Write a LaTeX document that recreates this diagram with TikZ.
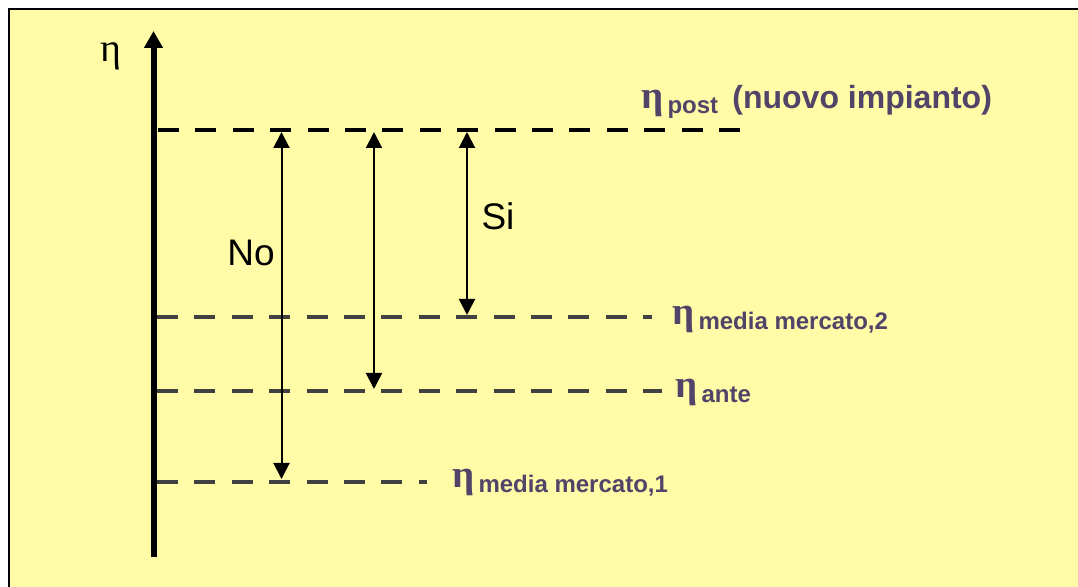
\documentclass[tikz,border=0pt]{standalone}
\usepackage{fontspec}
\setmainfont{Liberation Sans}
\newfontfamily\etafont{Liberation Serif}
\usetikzlibrary{arrows.meta, positioning}
\definecolor{paleyellow}{RGB}{255, 251, 166}
\definecolor{labelpurple}{RGB}{82, 68, 105}
\definecolor{levelgrey}{RGB}{64, 64, 64}
\newcommand{\etalabel}[1]{{\etafont\bfseries\fontsize{19.5}{19.5}\selectfont η}\hspace{2pt}\raisebox{-2.5pt}{\fontsize{12}{12}\selectfont\bfseries #1}}

\begin{document}
\begin{tikzpicture}[
    x=0.5pt, y=-0.5pt,
    axis/.style={line width=3pt, -{Triangle[width=9pt, length=8.5pt]}},
    level/.style={line width=2.2pt, dash pattern=on 10.5pt off 8.2pt},
    gap/.style={line width=1pt, {Triangle[width=8pt, length=8pt]}-{Triangle[width=8pt, length=8pt]}},
    lbl/.style={anchor=base west, inner sep=0pt, text=labelpurple},
    word/.style={font=\fontsize{18.5}{18.5}\selectfont, inner sep=0pt}
]
    \useasboundingbox (0,0) rectangle (1078,587);
    \clip (0,0) rectangle (1078,587);
    \fill[white] (0,0) rectangle (1078,587);
    \filldraw[fill=paleyellow, draw=black, line width=1pt] (8.5,9.5) rectangle (1100,610);

    % axis
    \coordinate (ybot) at (153.5,557);
    \coordinate (ytop) at (153.5,31);
    \draw[axis] (ybot) -- (ytop);
    \node[anchor=base west, inner sep=0pt, font=\etafont\fontsize{20}{20}\selectfont] (eta) at (100,62) {η};

    % levels
    \coordinate (post0) at (158,130);   \coordinate (post1) at (742,130);
    \coordinate (mm20) at (157,317);    \coordinate (mm21) at (652,317);
    \coordinate (ante0) at (157,391);   \coordinate (ante1) at (662,391);
    \coordinate (mm10) at (157,482);    \coordinate (mm11) at (427,482);
    \draw[level, black] (post0) -- (post1);
    \draw[level, levelgrey] (mm20) -- (mm21);
    \draw[level, levelgrey] (ante0) -- (ante1);
    \draw[level, levelgrey] (mm10) -- (mm11);

    \node[lbl] (lpost) at (641,109) {\etalabel{post}};
    \node[lbl, font=\fontsize{16}{16}\selectfont\bfseries] (lnuovo) at (732,109) {(nuovo impianto)};
    \node[lbl] (lmm2) at (672,325) {\etalabel{media mercato,2}};
    \node[lbl] (lante) at (675,398) {\etalabel{ante}};
    \node[lbl] (lmm1) at (452,488) {\etalabel{media mercato,1}};

    % comparisons
    \coordinate (notop) at (281.5,132);  \coordinate (nobot) at (281.5,479);
    \coordinate (mdtop) at (374,132);    \coordinate (mdbot) at (374,389);
    \coordinate (sitop) at (467,132);    \coordinate (sibot) at (467,315);
    \draw[gap] (notop) -- (nobot);
    \draw[gap] (mdtop) -- (mdbot);
    \draw[gap] (sitop) -- (sibot);

    \node[word] (no) at (251,253) {No};
    \node[word] (si) at (498,216) {Si};
\end{tikzpicture}
\end{document}
